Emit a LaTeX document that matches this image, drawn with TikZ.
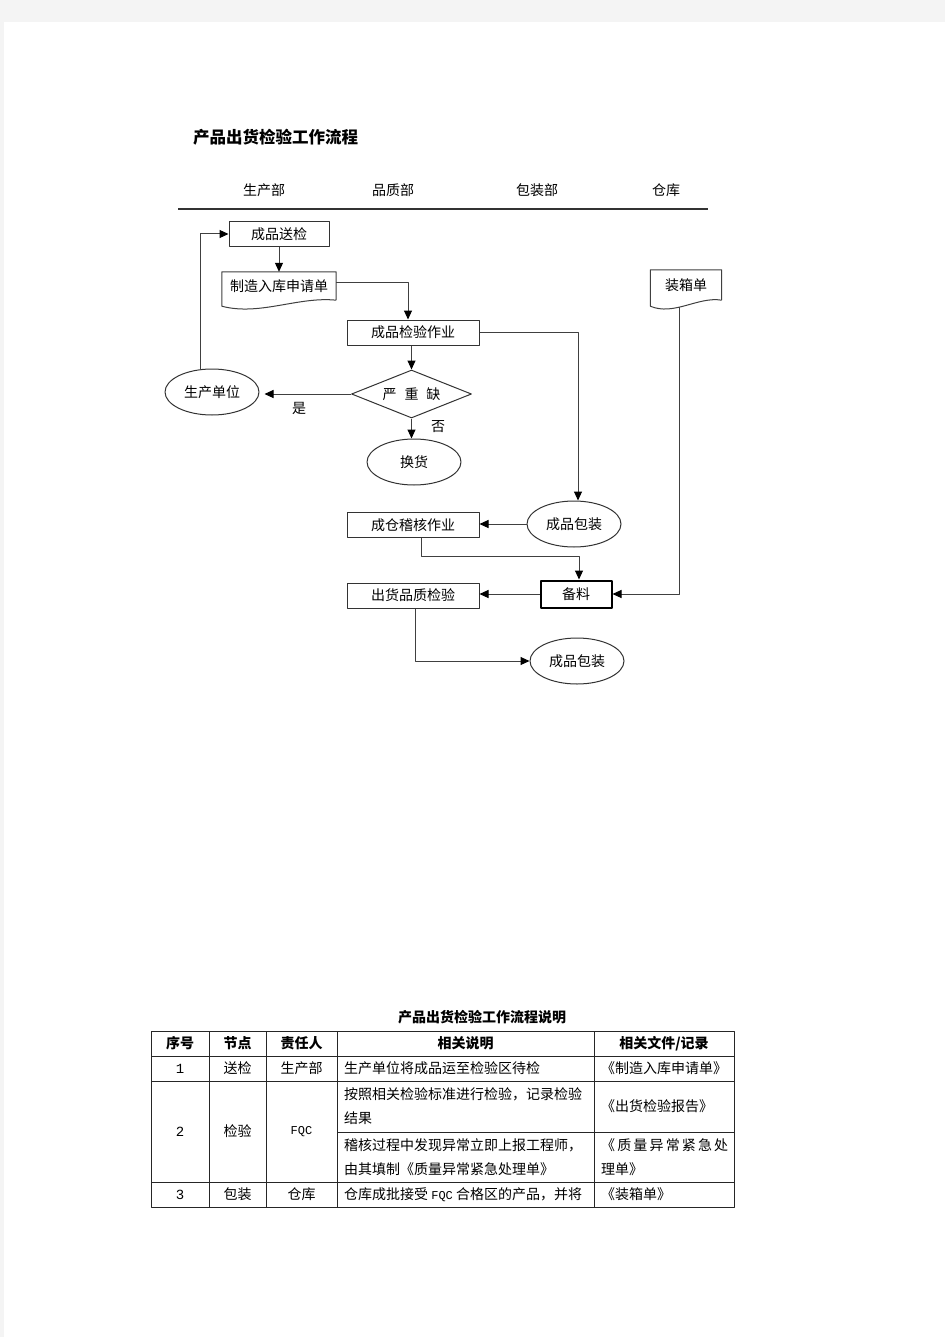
\documentclass[tikz,border=0pt]{standalone}
\usepackage{fontspec}
\setmainfont{Noto Sans CJK SC}
\newfontfamily\monofqc{Liberation Mono}
\usetikzlibrary{arrows.meta,shapes.geometric,calc}

\definecolor{pagegrey}{HTML}{F4F4F4}

\tikzset{
  txt/.style={font=\fontsize{14pt}{16pt}\selectfont},
  flow/.style={draw=black!75, line width=1pt},
  box/.style={txt, draw=black!80, line width=1pt, rectangle, minimum width=132pt, minimum height=25pt, inner sep=0pt},
  oval/.style={txt, draw=black!80, line width=1pt, ellipse, minimum width=94pt, minimum height=46pt, inner sep=0pt},
  docnode/.style={txt, inner sep=0pt, minimum height=28pt},
  lbl/.style={txt, inner sep=0pt},
  grid/.style={draw=black!85, line width=1pt},
  cell/.style={txt, inner sep=0pt},
  headcell/.style={inner sep=0pt, font=\fontsize{14pt}{16pt}\selectfont\bfseries},
  twoline/.style={inner sep=0pt, align=left, anchor=west, font=\fontsize{14pt}{24pt}\selectfont}
}

% outline of a "document" symbol round a node
\newcommand{\docframe}[1]{%
  \draw[flow] (#1.south east) -- (#1.north east) -- (#1.north west) -- ([yshift=-6pt]#1.south west)
    .. controls ($(#1.south west)!0.33!(#1.south east)+(0,16)$) and ($(#1.south west)!0.67!(#1.south east)+(0,-4)$) .. (#1.south east);}

\begin{document}
\begin{tikzpicture}[x=1pt,y=-1pt,>={Triangle[length=9pt,width=8pt,color=black]},line join=round]
    \useasboundingbox (0,0) rectangle (945,1337);
    \fill[pagegrey] (0,0) rectangle (945,1337);
    \fill[white] (4,22) rectangle (945,1337);

    % title and lanes
    \node[anchor=west, inner sep=0pt, font=\fontsize{16.5pt}{18pt}\selectfont\bfseries] (title) at (193,137) {产品出货检验工作流程};
    \node[lbl] (dept1) at (264,190) {生产部};
    \node[lbl] (dept2) at (393,190) {品质部};
    \node[lbl] (dept3) at (537,190) {包装部};
    \node[lbl] (dept4) at (666,190) {仓库};
    \draw[draw=black!80, line width=1.5pt] (178,209) -- (708,209);

    % flow nodes
    \node[box, minimum width=100pt] (songjian) at (279,234) {成品送检};
    \node[docnode, minimum width=114pt] (zhizao) at (279,286) {制造入库申请单};
    \docframe{zhizao}
    \node[box] (jianyan) at (413,332.5) {成品检验作业};
    \node[txt, diamond, draw=black!80, line width=1pt, minimum width=120pt, minimum height=48pt, inner sep=0pt, aspect=2.5] (panding) at (411.5,394) {严\hspace{8pt}重\hspace{8pt}缺};
    \node[oval] (shengchan) at (212,392) {生产单位};
    \node[oval] (huanhuo) at (414,462) {换货};
    \node[oval] (baozhuang1) at (574,524) {成品包装};
    \node[box] (chengcang) at (413,525) {成仓稽核作业};
    \node[box, minimum width=71pt, minimum height=27pt, draw=black, line width=2pt] (beiliao) at (576,594) {备料};
    \node[box] (chuhuo) at (413,595.5) {出货品质检验};
    \node[oval] (baozhuang2) at (577,661) {成品包装};
    \node[docnode, minimum width=71pt, minimum height=30pt] (zhuangxiang) at (686,285) {装箱单};
    \docframe{zhuangxiang}

    % connectors
    \draw[flow,->] (shengchan.116) |- (songjian.west);
    \draw[flow,->] (songjian) -- (zhizao);
    \draw[flow,->] ([yshift=3pt]zhizao.east) -| ([xshift=-5pt]jianyan.north);
    \draw[flow,->] (jianyan.east) -| ([xshift=4pt]baozhuang1.north);
    \draw[flow,->] (jianyan.south -| panding.north) -- (panding.north);
    \draw[flow,->] (panding.west) -- ([xshift=5pt]panding.west -| shengchan.east) node[lbl, pos=0.6, below=8pt] (shi) {是};
    \draw[flow,->] (panding.south) -- (panding.south |- huanhuo.north) node[lbl, pos=0.4, right=19pt] (fou) {否};
    \draw[flow,->] (baozhuang1.west) -- (baozhuang1.west -| chengcang.east);
    \draw[flow,->] ([xshift=8pt]chengcang.south) -- ++(0,18) -| ([xshift=3pt]beiliao.north);
    \draw[flow,->] (beiliao.west) -- (beiliao.west -| chuhuo.east);
    \draw[flow,->] ([shift={(-7,7)}]zhuangxiang.south) |- (beiliao.east);
    \draw[flow,->] ([xshift=2pt]chuhuo.south) |- (baozhuang2.west);

    % table
    \node[inner sep=0pt, font=\fontsize{14pt}{16pt}\selectfont\bfseries] (tabtitle) at (482,1017) {产品出货检验工作流程说明};
    \draw[grid] (151,1031) rectangle (734,1207);
    \foreach \x in {209,266,337,594}
        \draw[grid] (\x,1031) -- (\x,1207);
    \foreach \y in {1056,1081,1182}
        \draw[grid] (151,\y) -- (734,\y);
    \draw[grid] (337,1132) -- (734,1132);

    \node[headcell] (h1) at (180,1043.5) {序号};
    \node[headcell] (h2) at (237.5,1043.5) {节点};
    \node[headcell] (h3) at (301.5,1043.5) {责任人};
    \node[headcell] (h4) at (465.5,1043.5) {相关说明};
    \node[headcell] (h5) at (664,1043.5) {相关文件/记录};

    \node[cell, font=\fontsize{14pt}{15pt}\monofqc] (n1) at (180,1068.5) {1};
    \node[cell] (j1) at (237.5,1068.5) {送检};
    \node[cell] (r1) at (301.5,1068.5) {生产部};
    \node[cell, anchor=west] (d1) at (344,1068.5) {生产单位将成品运至检验区待检};
    \node[cell, anchor=west] (f1) at (601,1068.5) {《制造入库申请单》};

    \node[cell, font=\fontsize{14pt}{15pt}\monofqc] (n2) at (180,1131.5) {2};
    \node[cell] (j2) at (237.5,1131.5) {检验};
    \node[cell, font=\fontsize{12pt}{14pt}\monofqc] (r2) at (301.5,1131.5) {FQC};
    \node[twoline] (d2a) at (344,1106.5) {按照相关检验标准进行检验，记录检验\\结果};
    \node[cell, anchor=west] (f2a) at (601,1106.5) {《出货检验报告》};
    \node[twoline] (d2b) at (344,1157) {稽核过程中发现异常立即上报工程师，\\由其填制《质量异常紧急处理单》};
    \node[twoline] (f2b) at (601,1157) {\hbox to 127pt{《\hfill 质\hfill 量\hfill 异\hfill 常\hfill 紧\hfill 急\hfill 处}\\理单》};

    \node[cell, font=\fontsize{14pt}{15pt}\monofqc] (n3) at (180,1194.5) {3};
    \node[cell] (j3) at (237.5,1194.5) {包装};
    \node[cell] (r3) at (301.5,1194.5) {仓库};
    \node[cell, anchor=west] (d3) at (344,1194.5) {仓库成批接受 {\monofqc\fontsize{12pt}{14pt}\selectfont FQC} 合格区的产品，并将};
    \node[cell, anchor=west] (f3) at (601,1194.5) {《装箱单》};
\end{tikzpicture}
\end{document}
